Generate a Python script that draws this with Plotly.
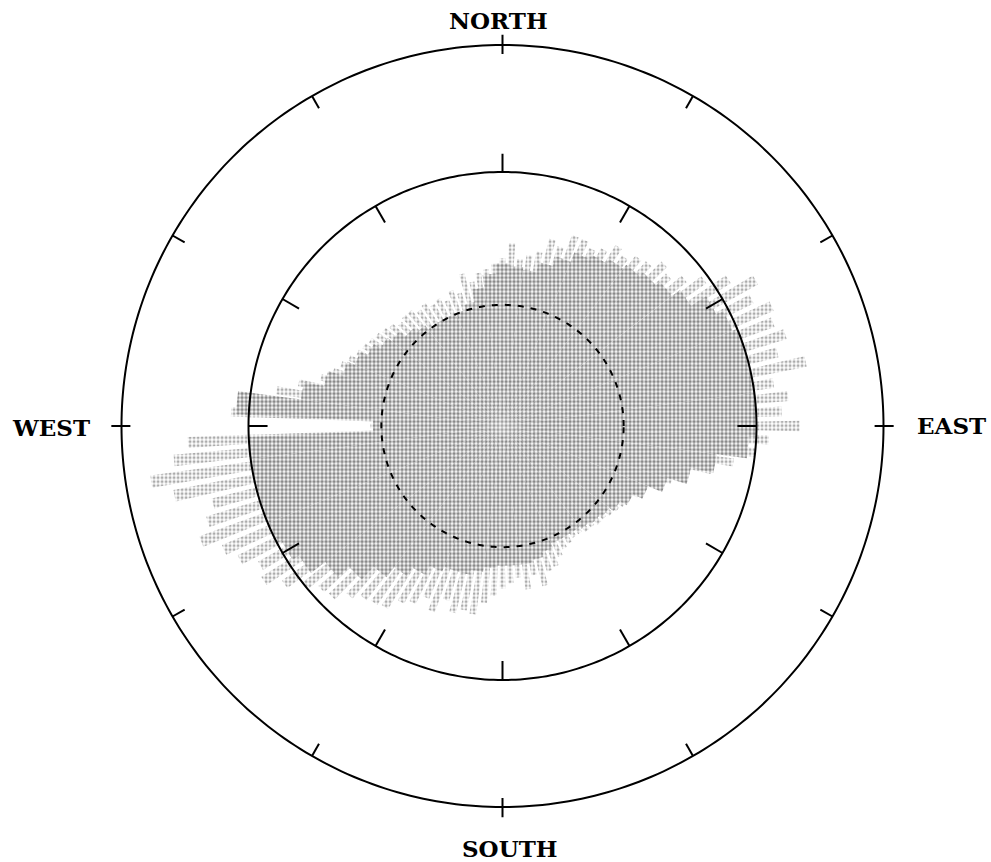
import plotly.graph_objects as go

# ---------------- data ----------------
# dense core of the rose, every 5 degrees (0 = East, counter-clockwise)
core_theta = list(range(0, 360, 5))
core_r = [1.00, 1.00, 1.00, 1.00, 1.00, 0.98, 0.95, 0.88, 0.84, 0.82,
          0.80, 0.78, 0.76, 0.74, 0.70, 0.66, 0.62, 0.63, 0.64, 0.60,
          0.55, 0.50, 0.48, 0.48, 0.48, 0.48, 0.50, 0.52, 0.55, 0.57,
          0.60, 0.63, 0.66, 0.72, 0.80, 1.05, 0.51, 1.00, 1.00, 1.00,
          1.00, 1.00, 0.98, 0.95, 0.88, 0.82, 0.75, 0.70, 0.66, 0.62,
          0.60, 0.60, 0.58, 0.56, 0.55, 0.55, 0.55, 0.54, 0.52, 0.50,
          0.50, 0.50, 0.51, 0.52, 0.53, 0.55, 0.58, 0.62, 0.68, 0.76,
          0.85, 0.97]

# thin rays (spikes), every 3 degrees
ray_theta = list(range(0, 360, 3))
ray_r = [1.17, 1.10, 1.13, 1.08, 1.22, 1.12, 1.17, 1.14, 1.16, 1.10,
         1.15, 1.06, 0.98, 0.92, 0.88, 0.90, 0.86, 0.85, 0.82, 0.84,
         0.80, 0.78, 0.80, 0.80, 0.74, 0.76, 0.70, 0.68, 0.66, 0.72,
         0.66, 0.64, 0.62, 0.61, 0.58, 0.62, 0.55, 0.57, 0.54, 0.56,
         0.55, 0.57, 0.56, 0.58, 0.58, 0.57, 0.59, 0.60, 0.61, 0.62,
         0.63, 0.64, 0.66, 0.68, 0.70, 0.74, 0.82, 0.90, 1.02, 1.07,
         0.52, 1.24, 1.30, 1.40, 1.32, 1.18, 1.22, 1.27, 1.20, 1.16,
         1.10, 1.12, 1.06, 1.00, 0.96, 0.95, 0.90, 0.87, 0.86, 0.85,
         0.80, 0.78, 0.74, 0.78, 0.72, 0.76, 0.74, 0.75, 0.70, 0.67,
         0.64, 0.62, 0.60, 0.65, 0.60, 0.65, 0.60, 0.59, 0.56, 0.54,
         0.53, 0.52, 0.52, 0.53, 0.53, 0.54, 0.54, 0.55, 0.56, 0.57,
         0.58, 0.60, 0.62, 0.66, 0.70, 0.76, 0.84, 0.92, 1.00, 1.05]

inner_radius = 1.0
outer_radius = 1.5
mean_radius = 0.477
tick_angles = list(range(0, 360, 30))
cardinal_angles = [0, 90, 180, 270]
inner_outward_ticks = [90]
direction_labels = ["EAST", "NORTH", "WEST", "SOUTH"]

# ---------------- geometry (pixels) ----------------
W, H = 991, 862
CX, CY = 502.5, 426.0
PX_PER_UNIT = 254.0
R_MAX = 1.6
half = R_MAX * PX_PER_UNIT

fig = go.Figure()

halftone_core = dict(shape=".", size=4, solidity=0.6, fgcolor="#111111", bgcolor="white")
halftone_ray = dict(shape=".", size=4, solidity=0.45, fgcolor="#555555", bgcolor="white")

fig.add_trace(go.Barpolar(
    theta=ray_theta, r=ray_r, width=2.0,
    marker=dict(color="white", line=dict(width=0), pattern=halftone_ray),
    showlegend=False, hoverinfo="skip"))

fig.add_trace(go.Barpolar(
    theta=core_theta, r=core_r, width=5,
    marker=dict(color="white", line=dict(width=0), pattern=halftone_core),
    showlegend=False, hoverinfo="skip"))

circle_theta = list(range(0, 361, 1))

# inner circle
fig.add_trace(go.Scatterpolar(
    theta=circle_theta, r=[inner_radius] * len(circle_theta), mode="lines",
    line=dict(color="black", width=2), showlegend=False, hoverinfo="skip"))

# outer circle
fig.add_trace(go.Scatterpolar(
    theta=circle_theta, r=[outer_radius] * len(circle_theta), mode="lines",
    line=dict(color="black", width=2), showlegend=False, hoverinfo="skip",
    cliponaxis=False))

# dashed mean circle
fig.add_trace(go.Scatterpolar(
    theta=circle_theta, r=[mean_radius] * len(circle_theta), mode="lines",
    line=dict(color="black", width=2, dash="6px,7px"), showlegend=False,
    hoverinfo="skip"))

# ticks
tt, tr = [], []
for a in tick_angles:
    if a in inner_outward_ticks:
        tt += [a, a, None]; tr += [inner_radius, inner_radius + 0.072, None]
    else:
        tt += [a, a, None]; tr += [inner_radius, inner_radius - 0.075, None]
    if a in cardinal_angles:
        tt += [a, a, None]; tr += [outer_radius - 0.035, outer_radius + 0.04, None]
    else:
        tt += [a, a, None]; tr += [outer_radius, outer_radius - 0.055, None]
fig.add_trace(go.Scatterpolar(
    theta=tt, r=tr, mode="lines", line=dict(color="black", width=2),
    showlegend=False, hoverinfo="skip", cliponaxis=False))

fig.update_layout(
    width=W, height=H, autosize=False,
    margin=dict(l=0, r=0, t=0, b=0),
    paper_bgcolor="white", plot_bgcolor="white",
    polar=dict(
        domain=dict(x=[(CX - half) / W, (CX + half) / W],
                    y=[1 - (CY + half) / H, 1 - (CY - half) / H]),
        bgcolor="white",
        radialaxis=dict(range=[0, R_MAX], visible=False, showgrid=False),
        angularaxis=dict(showline=False, showgrid=False, ticks="",
                         showticklabels=False, rotation=0,
                         direction="counterclockwise"),
        barmode="overlay",
    ),
)

label_pos = {"EAST": (951, 425), "NORTH": (498, 20), "WEST": (51, 427), "SOUTH": (510, 848)}
for lab in direction_labels:
    x, y = label_pos[lab]
    fig.add_annotation(x=x / W, y=1 - y / H, xref="paper", yref="paper",
                       text=lab, showarrow=False,
                       font=dict(family="DejaVu Serif", size=23, color="black", weight="bold"),
                       xanchor="center", yanchor="middle")

fig.write_html("out.html", config={"displayModeBar": False},
               post_script="document.body.style.margin='0';document.body.style.overflow='hidden';")
